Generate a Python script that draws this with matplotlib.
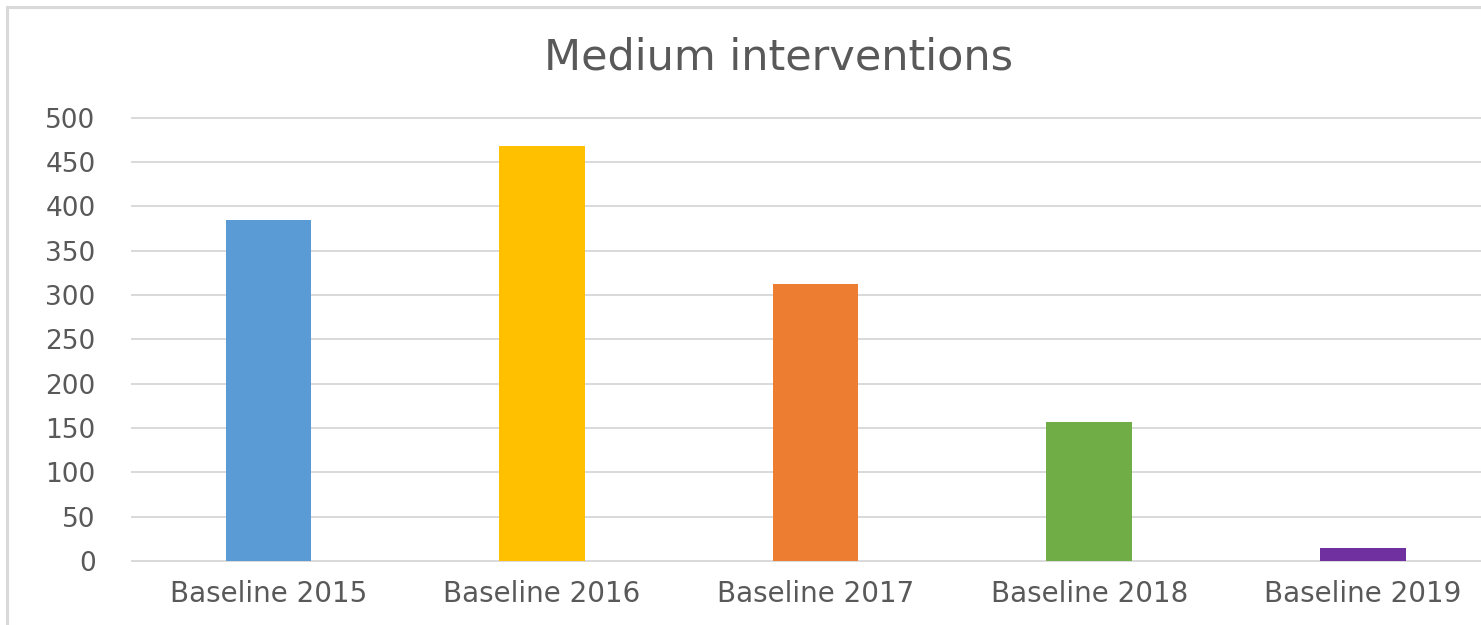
import matplotlib.pyplot as plt
from matplotlib.patches import Rectangle

categories = ["Baseline 2015", "Baseline 2016", "Baseline 2017", "Baseline 2018", "Baseline 2019"]
values = [384, 468, 312, 157, 15]
colors = ["#5B9BD5", "#FFC000", "#ED7D31", "#70AD47", "#7030A0"]
yticks = [0, 50, 100, 150, 200, 250, 300, 350, 400, 450, 500]

txt = "#595959"
grid = "#d9d9d9"

fig = plt.figure(figsize=(14.81, 6.25), dpi=100)
ax = fig.add_axes([0.0889, 0.1024, 0.9237, 0.7094])

# outer chart border (right/bottom are cut off in the reference)
fig.patches.append(Rectangle((7 / 1481, -0.05), 1.1, 1 - 7 / 625 + 0.05,
                             transform=fig.transFigure, fill=False,
                             edgecolor=grid, linewidth=2.2))

x = range(len(categories))
ax.bar(x, values, width=0.313, color=colors, zorder=3)

ax.set_xlim(-0.5, 4.5)
ax.set_ylim(0, 500)
ax.set_yticks(yticks)
ax.set_xticks(list(x))
ax.set_xticklabels(categories)

for y in yticks:
    ax.axhline(y, color=grid, linewidth=1.4, zorder=1, clip_on=False)

for s in ax.spines.values():
    s.set_visible(False)
ax.tick_params(axis="both", length=0, colors=txt)
ax.tick_params(axis="y", labelsize=19, pad=26)
ax.tick_params(axis="x", labelsize=20, pad=14)

fig.text(779 / 1481, 1 - 57 / 625, "Medium interventions", ha="center", va="center",
         fontsize=31, color=txt)

fig.savefig("out.png", dpi=100)
